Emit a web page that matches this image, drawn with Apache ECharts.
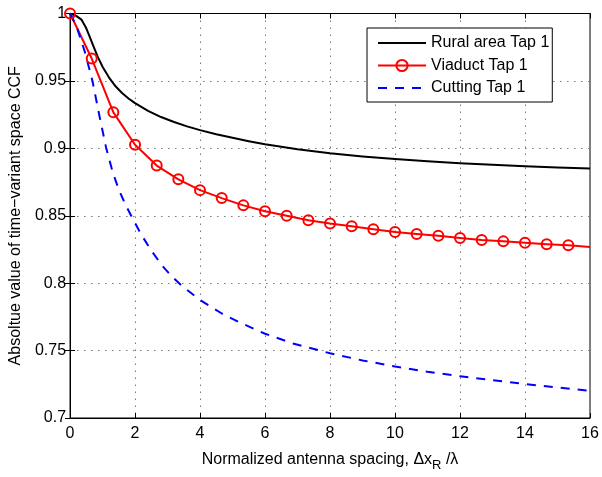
<!DOCTYPE html>
<html>
<head>
<meta charset="utf-8">
<script src="https://cdn.jsdelivr.net/npm/echarts@6/dist/echarts.min.js"></script>
<style>
html,body{margin:0;padding:0;background:#fff;}
#chart{width:602px;height:477px;}
</style>
</head>
<body>
<div id="chart"></div>
<script>
// Data
var xTicks = [0, 2, 4, 6, 8, 10, 12, 14, 16];
var yTicks = [0.7, 0.75, 0.8, 0.85, 0.9, 0.95, 1];

var ruralX = [0, 0.2, 0.35, 0.5, 0.6, 0.7, 0.85, 1.0, 1.2, 1.4, 1.6, 1.8, 2.0, 2.4, 2.8, 3.2, 3.6, 4.0, 4.5, 5, 5.5, 6, 7, 8, 9, 10, 11, 12, 13, 14, 15, 16];
var ruralY = [1, 0.998, 0.9955, 0.989, 0.983, 0.977, 0.968, 0.9605, 0.9525, 0.946, 0.941, 0.937, 0.9335, 0.9278, 0.9232, 0.9195, 0.9163, 0.9135, 0.9105, 0.9078, 0.9053, 0.903, 0.8993, 0.8963, 0.894, 0.892, 0.8905, 0.889, 0.8878, 0.8867, 0.8858, 0.885];

var viaductX = [0, 0.667, 1.333, 2, 2.667, 3.333, 4, 4.667, 5.333, 6, 6.667, 7.333, 8, 8.667, 9.333, 10, 10.667, 11.333, 12, 12.667, 13.333, 14, 14.667, 15.333, 16];
var viaductY = [1, 0.9666, 0.9267, 0.9027, 0.8872, 0.877, 0.869, 0.8631, 0.8577, 0.8534, 0.850, 0.8466, 0.8442, 0.8422, 0.840, 0.838, 0.8364, 0.8351, 0.8335, 0.832, 0.831, 0.830, 0.8289, 0.8281, 0.8269];

var cuttingX = [0, 0.2, 0.45, 0.69, 0.9, 1.11, 1.31, 1.5, 1.7, 1.87, 2.18, 2.5, 2.84, 3.14, 3.45, 4.0, 4.67, 5.28, 6.0, 6.86, 8, 9, 10, 11, 12, 13, 14, 15, 16];
var cuttingY = [1, 0.9905, 0.972, 0.95, 0.9245, 0.9005, 0.8825, 0.8695, 0.8585, 0.8505, 0.8365, 0.8242, 0.8128, 0.8048, 0.7978, 0.7875, 0.7775, 0.7702, 0.7625, 0.7553, 0.748, 0.7427, 0.7382, 0.7343, 0.731, 0.728, 0.7252, 0.7226, 0.7202];

var seriesNames = ['Rural area Tap 1', 'Viaduct Tap 1', 'Cutting Tap 1'];
var yAxisTitle = 'Absoltue value of time\u2212variant space CCF';

function pairs(xs, ys) {
  var out = [];
  for (var i = 0; i < xs.length; i++) out.push([xs[i], ys[i]]);
  return out;
}

var viaductData = pairs(viaductX, viaductY).map(function (p, i) {
  // last point (x=16) carries no marker in the reference
  return i === viaductX.length - 1 ? { value: p, symbol: 'none' } : p;
});

var FONT = 'Liberation Sans, Arial, Helvetica, sans-serif';
var gridLine = { show: true, lineStyle: { color: '#7a7a7a', width: 1, type: [1.5, 5.5] } };
var hiddenSymbol = { color: 'rgba(0,0,0,0)', borderWidth: 0, opacity: 0 };

var chart = echarts.init(document.getElementById('chart'), null, { renderer: 'canvas' });
chart.setOption({
  animation: false,
  backgroundColor: '#fff',
  textStyle: { fontFamily: FONT },
  grid: { left: 67, right: 12, top: 13.5, bottom: 52, show: true, borderColor: '#000', borderWidth: 1, containLabel: false },
  legend: {
    left: 367, top: 28,
    orient: 'vertical',
    backgroundColor: '#fff',
    borderColor: '#000', borderWidth: 1, borderRadius: 0,
    padding: [7, 3, 6, 10],
    itemGap: 6.5,
    itemWidth: 48, itemHeight: 14,
    textStyle: { fontSize: 16, color: '#000', fontFamily: FONT },
    data: [
      { name: seriesNames[0], itemStyle: hiddenSymbol },
      { name: seriesNames[1] },
      { name: seriesNames[2], itemStyle: hiddenSymbol }
    ]
  },
  xAxis: [{
    type: 'value', min: 0, max: 16, interval: 2,
    axisLine: { show: true, lineStyle: { color: '#000', width: 1 } },
    axisTick: { show: true, inside: true, length: 5, lineStyle: { color: '#000' } },
    axisLabel: { fontSize: 16, color: '#000', margin: 8, fontFamily: FONT },
    splitLine: gridLine,
    name: '{a|Normalized antenna spacing, \u0394x}{s|R}{a| /\u03bb}',
    nameLocation: 'middle', nameGap: 30,
    nameTextStyle: {
      rich: {
        a: { fontSize: 16, color: '#000', fontFamily: FONT },
        s: { fontSize: 13, color: '#000', fontFamily: FONT, padding: [11, 0, 0, 0] }
      }
    }
  }, {
    type: 'value', min: 0, max: 16, interval: 2, position: 'top',
    axisLine: { show: true, lineStyle: { color: '#000', width: 1 } },
    axisTick: { show: true, inside: true, length: 5, lineStyle: { color: '#000' } },
    axisLabel: { show: false }, splitLine: { show: false }
  }],
  yAxis: [{
    type: 'value', min: 0.7, max: 1, interval: 0.05,
    axisLine: { show: true, lineStyle: { color: '#000', width: 1 } },
    axisTick: { show: true, inside: true, length: 5, lineStyle: { color: '#000' } },
    axisLabel: { fontSize: 16, color: '#000', margin: 4, fontFamily: FONT,
      formatter: function (v) { return String(+(+v).toFixed(2)); } },
    splitLine: gridLine,
    name: yAxisTitle, nameLocation: 'middle', nameGap: 41,
    nameTextStyle: { fontSize: 16, color: '#000', fontFamily: FONT }
  }, {
    type: 'value', min: 0.7, max: 1, interval: 0.05, position: 'right',
    axisLine: { show: true, lineStyle: { color: '#000', width: 1 } },
    axisTick: { show: true, inside: true, length: 5, lineStyle: { color: '#000' } },
    axisLabel: { show: false }, splitLine: { show: false }
  }],
  series: [{
    name: seriesNames[0], type: 'line',
    data: pairs(ruralX, ruralY),
    symbol: 'circle', showSymbol: false, color: '#000',
    lineStyle: { color: '#000', width: 2, join: 'round' }
  }, {
    name: seriesNames[1], type: 'line',
    data: viaductData,
    symbol: 'circle', symbolSize: 10, showAllSymbol: true, color: '#f00',
    lineStyle: { color: '#f00', width: 2, join: 'round' },
    itemStyle: { color: 'rgba(255,255,255,0)', borderColor: '#f00', borderWidth: 2 }
  }, {
    name: seriesNames[2], type: 'line',
    data: pairs(cuttingX, cuttingY),
    symbol: 'circle', showSymbol: false, color: '#00f',
    lineStyle: { color: '#00f', width: 2, type: [9, 8], join: 'round' }
  }]
});
</script>
</body>
</html>
